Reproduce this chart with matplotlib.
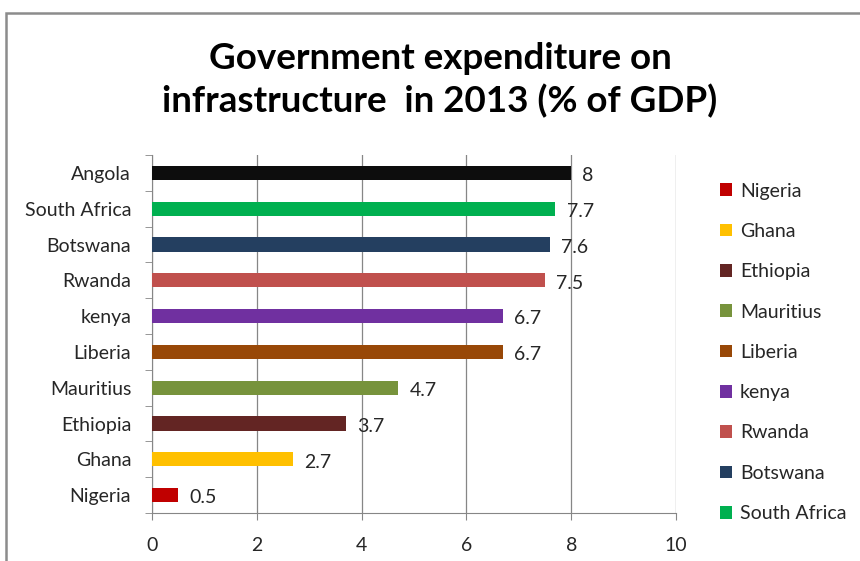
import matplotlib

matplotlib.use("Agg")

import matplotlib.pyplot as plt
from matplotlib.patches import Patch, Rectangle

# Data (bottom to top as drawn)
countries = ["Nigeria", "Ghana", "Ethiopia", "Mauritius", "Liberia",
             "kenya", "Rwanda", "Botswana", "South Africa", "Angola"]
values = [0.5, 2.7, 3.7, 4.7, 6.7, 6.7, 7.5, 7.6, 7.7, 8]
value_labels = ["0.5", "2.7", "3.7", "4.7", "6.7", "6.7", "7.5", "7.6", "7.7", "8"]
colors = ["#c00000", "#ffc000", "#632523", "#77933c", "#984807",
          "#7030a0", "#c0504d", "#243f60", "#00b050", "#0d0d0d"]
legend_names = countries[:-1]  # Angola is not in the legend
x_ticks = [0, 2, 4, 6, 8, 10]

plt.rcParams["font.family"] = ["Lato", "DejaVu Sans"]
text_color = "#262626"
grid_color = "#868686"
fs = 14

fig = plt.figure(figsize=(8.6, 5.61), dpi=100)
fig.patches.append(Rectangle((6 / 860, -0.1), 1.2, 1 - 13 / 561 + 0.1,
                             transform=fig.transFigure, fill=False,
                             edgecolor="#8c8c8c", linewidth=1.8))

ax = fig.add_axes([152 / 860, 1 - 513 / 561, 524 / 860, 358 / 561])
ypos = list(range(len(countries)))
ax.barh(ypos, values, height=0.4, color=colors, zorder=3)
for y, v, lab in zip(ypos, values, value_labels):
    ax.annotate(lab, (v, y), xytext=(8, -2), textcoords="offset points",
                ha="left", va="center", fontsize=fs, color=text_color)

ax.set_xlim(0, 10)
ax.set_ylim(-0.5, len(countries) - 0.5)
ax.set_xticks(x_ticks)
ax.set_xticklabels([str(t) for t in x_ticks], fontsize=fs, color=text_color)
ax.set_yticks(ypos)
ax.set_yticklabels(countries, fontsize=fs, color=text_color)
ax.tick_params(axis="y", which="major", length=0, pad=15)
ax.set_yticks([y - 0.5 for y in ypos] + [len(countries) - 0.5], minor=True)
ax.tick_params(axis="y", which="minor", length=5, color=grid_color, direction="out")
ax.tick_params(axis="x", length=5, color=grid_color, pad=12)
ax.grid(axis="x", color=grid_color, linewidth=0.9, zorder=0)
for side in ("top", "right"):
    ax.spines[side].set_visible(False)
for side in ("left", "bottom"):
    ax.spines[side].set_color(grid_color)

fig.text(440 / 860, 1 - 80 / 561,
         "Government expenditure on\ninfrastructure  in 2013 (% of GDP)",
         ha="center", va="center", fontsize=26.5, fontweight="bold",
         linespacing=1.3, color="black")

handles = [Patch(facecolor=colors[countries.index(n)], label=n) for n in legend_names]
leg = fig.legend(handles=handles, loc="upper left",
                 bbox_to_anchor=(702 / 860, 1 - 165 / 561), frameon=False,
                 fontsize=fs, labelspacing=1.2, handlelength=0.65,
                 handleheight=0.65, handletextpad=0.4, labelcolor=text_color)

fig.savefig("out.png")
plt.close(fig)
